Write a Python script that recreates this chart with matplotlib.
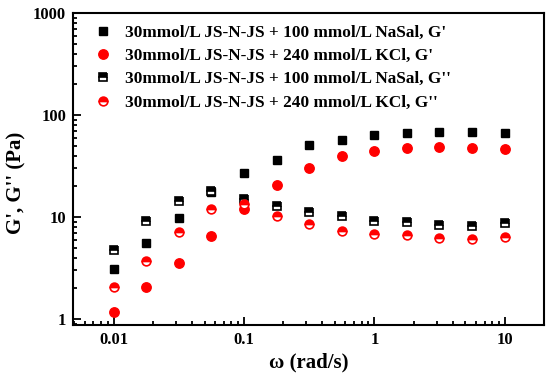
import numpy as np
import matplotlib.pyplot as plt
from matplotlib.ticker import FixedLocator, FixedFormatter, LogLocator, NullFormatter

plt.rcParams['font.family'] = ['Liberation Serif', 'DejaVu Serif']
plt.rcParams['font.weight'] = 'bold'

omega = [0.01, 0.0178, 0.0316, 0.0562, 0.1, 0.178, 0.316, 0.562, 1, 1.78, 3.16, 5.62, 10]
g1_nasal = [3.1, 5.6, 9.8, 17.5, 26.9, 36.3, 51, 56.6, 63.7, 67.1, 67.7, 68.2, 66.2]
g1_kcl = [1.18, 2.05, 3.56, 6.5, 12.0, 20.7, 30.1, 39.7, 44.8, 47.5, 48.7, 47.9, 46.2]
g2_nasal = [4.7, 9.1, 14.2, 17.9, 15.0, 12.7, 11.3, 10.2, 9.08, 8.9, 8.35, 8.1, 8.8]
g2_kcl = [2.08, 3.7, 7.15, 11.9, 13.4, 10.2, 8.5, 7.35, 6.77, 6.6, 6.2, 6.05, 6.4]

labels = ["30mmol/L JS-N-JS + 100 mmol/L NaSal, G'",
          "30mmol/L JS-N-JS + 240 mmol/L KCl, G'",
          "30mmol/L JS-N-JS + 100 mmol/L NaSal, G''",
          "30mmol/L JS-N-JS + 240 mmol/L KCl, G''"]

xticks = [0.01, 0.1, 1, 10]
xticklabels = ['0.01', '0.1', '1', '10']
yticks = [1, 10, 100, 1000]
yticklabels = ['1', '10', '100', '1000']

fig = plt.figure(figsize=(5.5, 3.75), dpi=100)
ax = fig.add_axes([0.133, 0.133, 0.856, 0.832])

ax.plot(omega, g1_nasal, ls='none', marker='s', ms=6, color='black', label=labels[0])
ax.plot(omega, g1_kcl, ls='none', marker='o', ms=6.8, color='red', label=labels[1])
ax.plot(omega, g2_nasal, ls='none', marker='s', ms=5.5, mew=1.2, color='black',
        fillstyle='top', markerfacecoloralt='white', label=labels[2])
ax.plot(omega, g2_kcl, ls='none', marker='o', ms=6.3, mew=1.2, color='red',
        fillstyle='top', markerfacecoloralt='white', label=labels[3])

ax.set_xscale('log')
ax.set_yscale('log')
ax.set_xlim(0.0049, 20)
ax.set_ylim(0.87, 1000)

ax.xaxis.set_major_locator(FixedLocator(xticks))
ax.xaxis.set_major_formatter(FixedFormatter(xticklabels))
ax.xaxis.set_minor_locator(LogLocator(subs=np.arange(2, 10)))
ax.xaxis.set_minor_formatter(NullFormatter())
ax.yaxis.set_major_locator(FixedLocator(yticks))
ax.yaxis.set_major_formatter(FixedFormatter(yticklabels))
ax.yaxis.set_minor_locator(LogLocator(subs=np.arange(2, 10)))
ax.yaxis.set_minor_formatter(NullFormatter())

ax.tick_params(which='both', direction='in', width=1.3, labelsize=12)
ax.tick_params(which='major', length=6, pad=5)
ax.tick_params(which='minor', length=3)
for s in ax.spines.values():
    s.set_linewidth(1.5)

ax.set_xlabel('ω (rad/s)', fontsize=15, fontweight='bold', labelpad=3)
ax.set_ylabel("G', G'' (Pa)", fontsize=15, fontweight='bold')
ax.yaxis.set_label_coords(-0.10, 0.455)

ax.legend(loc='upper left', bbox_to_anchor=(0.03, 0.985), frameon=False,
          fontsize=12.4, handlelength=1, handletextpad=0.8, labelspacing=0.42,
          borderaxespad=0)

fig.savefig('out.png', dpi=100)
